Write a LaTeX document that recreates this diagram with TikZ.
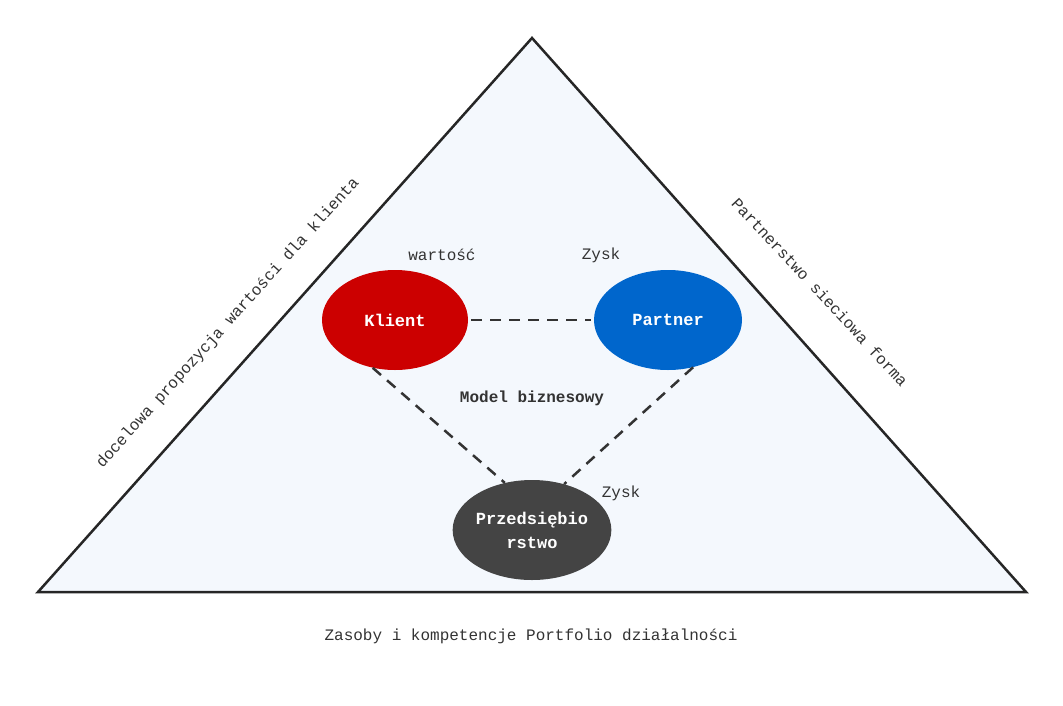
\documentclass[tikz,border=0pt]{standalone}
\usepackage{fontspec}
\setmonofont{Liberation Mono}
\usetikzlibrary{shapes.geometric}
\begin{document}
\begin{tikzpicture}[x=1pt,y=-1pt,
  lbl/.style={font=\ttfamily\fontsize{16}{18}\selectfont,text=black!80},
  ell/.style={ellipse,minimum width=148pt,minimum height=100pt,inner sep=0pt,text=white,font=\ttfamily\bfseries\fontsize{17}{24}\selectfont,align=center},
  dashln/.style={draw=black!80,line width=2.5pt,dash pattern=on 11pt off 8pt}]
\useasboundingbox (0,0) rectangle (1063,705);
\definecolor{tri}{HTML}{F4F8FD}
\definecolor{kred}{HTML}{CC0000}
\definecolor{pblue}{HTML}{0066CC}
\definecolor{dgray}{HTML}{444444}
\coordinate (A) at (532,38); \coordinate (L) at (38,592); \coordinate (R) at (1026,592);
\draw[fill=tri,draw=black!85,line width=2.5pt,line join=miter] (A) -- (R) -- (L) -- cycle;
\node[ell,fill=kred,minimum width=146pt] (k) at (395,320) {Klient};
\node[ell,fill=pblue] (p) at (668,320) {Partner};
\node[ell,fill=dgray,minimum width=150pt] (e) at (532,530) {Przedsiębio\\rstwo};
\draw[dashln] ([xshift=3pt]k.east) -- ([xshift=-3pt]p.west);
\draw[dashln] (k.-115) -- (e.120);
\draw[dashln] (p.-62) -- (e.55);
\node[lbl] (w) at (442,255) {wartość};
\node[lbl] (z1) at (601,255) {Zysk};
\node[lbl,font=\ttfamily\bfseries\fontsize{16}{18}\selectfont] (m) at (532,398) {Model biznesowy};
\node[lbl] (z2) at (621,493) {Zysk};
\node[lbl,rotate=48] (lt) at (228,323) {docelowa propozycja wartości dla klienta};
\node[lbl,rotate=-47] (rt) at (820,292) {Partnerstwo   sieciowa forma};
\node[lbl] (bt) at (531,636) {Zasoby i kompetencje  Portfolio działalności};
\end{tikzpicture}
\end{document}
